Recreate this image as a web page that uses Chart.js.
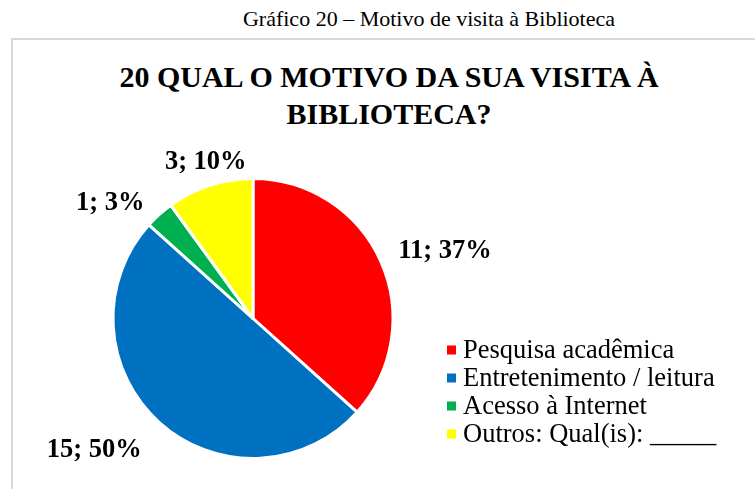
<!DOCTYPE html>
<html>
<head>
<meta charset="utf-8">
<script src="https://cdn.jsdelivr.net/npm/chart.js@4.4.0/dist/chart.umd.min.js"></script>
<style>
  body { margin: 0; background: #fff; font-family: "Liberation Serif", "Times New Roman", serif; }
  #wrap { position: relative; width: 755px; height: 489px; overflow: hidden; }
  #caption { position: absolute; left: 0; top: 6px; width: 858px; text-align: center; font-size: 22px; color: #000; }
  #box { position: absolute; left: 11px; top: 38px; width: 800px; height: 480px; border: 2px solid #d9d9d9; }
  #title { position: absolute; left: 0; top: 58px; width: 778px; text-align: center; font-size: 30px; font-weight: bold; line-height: 37px; color: #000; }
  canvas { position: absolute; left: 0; top: 0; }
</style>
</head>
<body>
<div id="wrap">
  <div id="caption">Gráfico 20 – Motivo de visita à Biblioteca</div>
  <div id="box"></div>
  <div id="title">20 QUAL O MOTIVO DA SUA VISITA À<br>BIBLIOTECA?</div>
  <canvas id="pie" width="755" height="489"></canvas>
</div>
<script>
const categories = ["Pesquisa acadêmica", "Entretenimento / leitura", "Acesso à Internet", "Outros: Qual(is): _____"];
const counts = [11, 15, 1, 3];
const percentLabels = ["37%", "50%", "3%", "10%"];
const sliceColors = ["#ff0000", "#0070c0", "#00b050", "#ffff00"];

// label offsets from the outer edge of each slice (layout only)
const labelOffsets = [[64, -11], [-65, 27], [-49, -12], [-4, -24]];

const valueLabels = {
  id: "valueLabels",
  afterDatasetsDraw(chart) {
    const ctx = chart.ctx;
    const meta = chart.getDatasetMeta(0);
    ctx.save();
    ctx.font = "bold 26.5px 'Liberation Serif', serif";
    ctx.fillStyle = "#000";
    ctx.textAlign = "center";
    ctx.textBaseline = "middle";
    meta.data.forEach((arc, i) => {
      const p = arc.getProps(["x", "y", "startAngle", "endAngle", "outerRadius"], true);
      const mid = (p.startAngle + p.endAngle) / 2;
      const ex = p.x + Math.cos(mid) * p.outerRadius;
      const ey = p.y + Math.sin(mid) * p.outerRadius;
      const txt = counts[i] + "; " + percentLabels[i];
      ctx.fillText(txt, ex + labelOffsets[i][0], ey + labelOffsets[i][1] + 1);
    });
    ctx.restore();
  }
};

const sideLegend = {
  id: "sideLegend",
  afterDraw(chart) {
    const ctx = chart.ctx;
    ctx.save();
    ctx.font = "26.5px 'Liberation Serif', serif";
    ctx.textBaseline = "middle";
    ctx.textAlign = "left";
    chart.data.labels.forEach((lab, i) => {
      const y = 350 + i * 28;
      ctx.fillStyle = chart.data.datasets[0].backgroundColor[i];
      ctx.fillRect(447, y - 4.5, 9, 9);
      ctx.fillStyle = "#000";
      ctx.fillText(lab, 463, y + 1);
    });
    ctx.restore();
  }
};

new Chart(document.getElementById("pie"), {
  type: "pie",
  data: {
    labels: categories,
    datasets: [{
      data: counts,
      backgroundColor: sliceColors,
      borderColor: "#ffffff",
      borderWidth: 3
    }]
  },
  options: {
    responsive: false,
    animation: false,
    layout: { padding: { left: 111, right: 360, top: 177, bottom: 29 } },
    plugins: {
      legend: { display: false },
      title: { display: false },
      tooltip: { enabled: false }
    }
  },
  plugins: [valueLabels, sideLegend]
});
</script>
</body>
</html>
